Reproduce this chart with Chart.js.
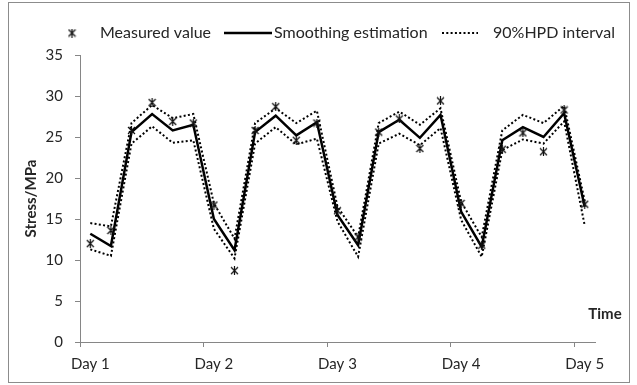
<!DOCTYPE html>
<html><head><meta charset="utf-8">
<script src="https://cdn.jsdelivr.net/npm/chart.js@4"></script>
<style>html,body{margin:0;padding:0;background:#fff}#wrap{position:relative;width:637px;height:385px}</style>
</head><body><div id="wrap"><canvas id="c" width="637" height="385"></canvas></div>
<script>
const dayLabels = ['Day 1', 'Day 2', 'Day 3', 'Day 4', 'Day 5'];
const pointsPerDay = 6;
const measured  = [12.0, 13.6, 25.8, 29.2, 26.9, 26.7, 16.7, 8.7, 25.8, 28.7, 24.6, 26.7, 16.0, 12.8, 25.6, 27.2, 23.6, 29.4, 16.9, 11.8, 23.5, 25.5, 23.2, 28.3, 16.8];
const smoothing = [13.2, 11.7, 25.6, 27.8, 25.8, 26.5, 15.0, 11.2, 25.6, 27.6, 25.2, 26.8, 15.5, 11.8, 25.6, 27.1, 24.9, 27.7, 15.9, 11.6, 24.6, 26.2, 25.0, 27.9, 16.5];
const hpdUpper  = [14.5, 14.1, 26.7, 28.9, 27.3, 27.8, 16.9, 12.6, 26.7, 28.5, 26.7, 28.2, 16.5, 12.8, 26.7, 28.1, 26.5, 28.5, 17.1, 12.8, 25.8, 27.7, 26.7, 28.8, 17.2];
const hpdLower  = [11.3, 10.5, 24.2, 26.3, 24.3, 24.6, 13.8, 10.2, 24.2, 26.2, 24.1, 24.8, 14.7, 10.4, 24.2, 25.4, 24.0, 26.1, 14.9, 10.4, 23.4, 24.7, 24.2, 26.9, 14.2];
const seriesNames = ['Measured value', 'Smoothing estimation', '90%HPD interval'];
const yAxisTitle = 'Stress/MPa';
const xAxisTitle = 'Time';

const categories = measured.map((_, i) => i % pointsPerDay === 0 ? dayLabels[i / pointsPerDay] : '');

const FONT = 'Lato';
const AXIS = '#868686';
const TEXT = '#262626';

// asterisk marker: X crossed by a vertical stroke
function makeStar(size) {
  const c = document.createElement('canvas');
  c.width = size; c.height = size;
  const g = c.getContext('2d');
  g.strokeStyle = '#111'; g.lineWidth = 1.2; g.lineCap = 'butt';
  const m = 1, s = size - 1;
  g.beginPath();
  g.moveTo(m, m); g.lineTo(s, s);
  g.moveTo(s, m); g.lineTo(m, s);
  g.moveTo(size / 2, 0); g.lineTo(size / 2, size);
  g.stroke();
  return c;
}
const star = makeStar(9);

const decor = {
  id: 'decor',
  afterDraw(chart) {
    const ctx = chart.ctx;
    ctx.save();
    // outer frame
    ctx.strokeStyle = '#8c8c8c'; ctx.lineWidth = 1; ctx.setLineDash([]);
    ctx.strokeRect(8.5, 2.5, 621, 380);
    // legend
    const ly = 33;
    ctx.drawImage(star, 72 - 4.5, ly - 4.5);
    ctx.fillStyle = TEXT;
    ctx.font = '16px ' + FONT;
    ctx.textBaseline = 'middle'; ctx.textAlign = 'left';
    ctx.fillText(seriesNames[0], 100, ly);
    ctx.strokeStyle = '#000'; ctx.lineWidth = 2.5;
    ctx.beginPath(); ctx.moveTo(224, ly); ctx.lineTo(272, ly); ctx.stroke();
    ctx.fillText(seriesNames[1], 274, ly);
    ctx.lineWidth = 2; ctx.setLineDash([2, 2.3]);
    ctx.beginPath(); ctx.moveTo(442, ly); ctx.lineTo(478, ly); ctx.stroke();
    ctx.setLineDash([]);
    ctx.fillText(seriesNames[2], 493, ly);
    // x axis title
    ctx.font = 'bold 15px ' + FONT;
    ctx.textAlign = 'center';
    ctx.fillText(xAxisTitle, 605, 314);
    ctx.restore();
  }
};

new Chart(document.getElementById('c'), {
  type: 'line',
  data: {
    labels: categories,
    datasets: [
      { label: seriesNames[0], data: measured, showLine: false, pointStyle: star, pointRadius: 4.5, pointHoverRadius: 4.5, borderColor: '#000', backgroundColor: '#000', order: 0 },
      { label: seriesNames[1], data: smoothing, borderColor: '#000', borderWidth: 2.5, pointRadius: 0, tension: 0, fill: false, order: 1 },
      { label: seriesNames[2], data: hpdUpper, borderColor: '#000', borderWidth: 2, borderDash: [2, 2.3], pointRadius: 0, tension: 0, fill: false, order: 2 },
      { label: seriesNames[2], data: hpdLower, borderColor: '#000', borderWidth: 2, borderDash: [2, 2.3], pointRadius: 0, tension: 0, fill: false, order: 2 }
    ]
  },
  options: {
    responsive: false,
    animation: false,
    devicePixelRatio: 1,
    layout: { padding: { left: 0, right: 42, top: 55, bottom: 0 } },
    plugins: { legend: { display: false }, tooltip: { enabled: false } },
    scales: {
      x: {
        type: 'category',
        offset: true,
        grid: {
          display: true, drawOnChartArea: false, offset: true, tickLength: 5,
          color: (c) => (c.index % pointsPerDay === 0 ? AXIS : 'rgba(0,0,0,0)')
        },
        border: { color: AXIS, width: 1 },
        ticks: { autoSkip: false, maxRotation: 0, minRotation: 0, padding: 8, color: TEXT, font: { family: FONT, size: 15 } },
        afterFit: (s) => { s.height = 43; }
      },
      y: {
        min: 0, max: 35,
        ticks: { stepSize: 5, padding: 12, color: TEXT, font: { family: FONT, size: 15 } },
        grid: { display: true, drawOnChartArea: false, tickLength: 5, color: AXIS },
        border: { color: AXIS, width: 1 },
        title: { display: true, text: yAxisTitle, color: TEXT, font: { family: FONT, size: 15, weight: 'bold' }, padding: { top: 22, bottom: 0 } },
        afterFit: (s) => { s.width = 80; }
      }
    }
  },
  plugins: [decor]
});
</script>
</body></html>
